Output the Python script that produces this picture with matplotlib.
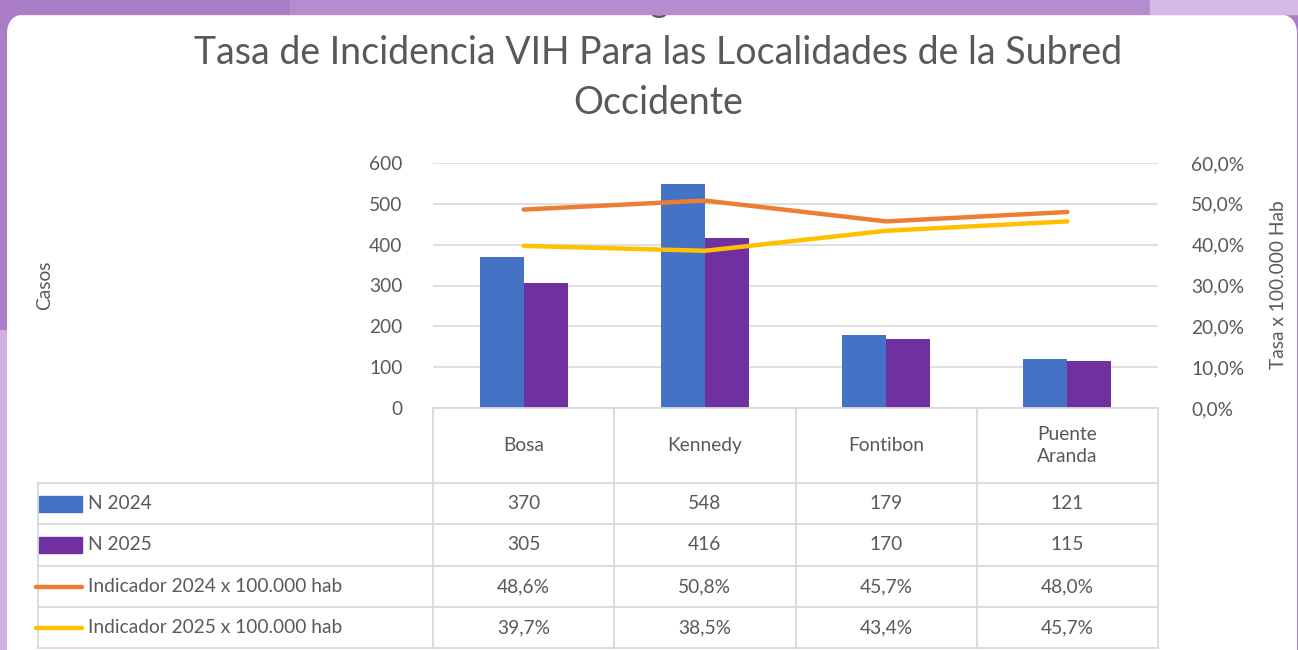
import matplotlib.pyplot as plt
import numpy as np
from matplotlib.patches import FancyBboxPatch, Rectangle
from matplotlib.lines import Line2D

plt.rcParams['font.family'] = ['Lato', 'DejaVu Sans']

categorias = ['Bosa', 'Kennedy', 'Fontibon', 'Puente\nAranda']
n_2024 = [370, 548, 179, 121]
n_2025 = [305, 416, 170, 115]
ind_2024 = [48.6, 50.8, 45.7, 48.0]
ind_2025 = [39.7, 38.5, 43.4, 45.7]
series = ['N 2024', 'N 2025', 'Indicador 2024 x 100.000 hab', 'Indicador 2025 x 100.000 hab']

azul, morado, naranja, amarillo = '#4472C4', '#7030A0', '#ED7D31', '#FFC000'
gris = '#595959'
borde = '#d9d9d9'
fs = 13.8

W, H = 1298, 650
fig = plt.figure(figsize=(W / 100, H / 100), dpi=100)


def px(x0, y0, x1, y1):
    # pixel box (top-left origin) -> figure fraction rect
    return [x0 / W, 1 - y1 / H, (x1 - x0) / W, (y1 - y0) / H]


# background: purple page with a white rounded card
bg = fig.add_axes([0, 0, 1, 1])
bg.set_xlim(0, W)
bg.set_ylim(H, 0)
bg.axis('off')
bg.add_patch(Rectangle((0, 0), W, H, color='#ab7cc8', zorder=1))
bg.add_patch(Rectangle((0, 330), 6, 320, color='#d2aee4', zorder=1))
card = FancyBboxPatch((27, 34), 1250, 700, boxstyle='round,pad=20', fc='white', ec='none',
                      zorder=2)
bg.add_patch(card)
# tail of a heading above the card, mostly hidden by the top band
bg.text(659, 12, 'g', fontsize=26, color=gris, ha='center', va='baseline', zorder=3)
bg.add_patch(Rectangle((0, 0), 290, 14, color='#ab7cc8', zorder=4))
bg.add_patch(Rectangle((290, 0), 860, 14, color='#b58cd0', zorder=4))
bg.add_patch(Rectangle((1150, 0), 148, 14, color='#d6b9e6', zorder=4))

fig.text(658 / W, 1 - 53 / H, 'Tasa de Incidencia VIH Para las Localidades de la Subred',
         ha='center', va='center', fontsize=27, color=gris)
fig.text(658 / W, 1 - 103 / H, 'Occidente', ha='center', va='center', fontsize=27, color=gris)

# main chart
ax = fig.add_axes(px(433, 163, 1158, 408))
x = np.arange(len(categorias))
w = 0.243
ax.bar(x - w / 2, n_2024, w, color=azul, zorder=2)
ax.bar(x + w / 2, n_2025, w, color=morado, zorder=2)
ax.set_xlim(-0.5, 3.5)
ax.set_ylim(0, 600)
ax.set_yticks(range(0, 601, 100))
ax.grid(axis='y', color=borde, lw=1.2, zorder=0)
ax.set_xticks([])
for s in ax.spines.values():
    s.set_visible(False)
ax.tick_params(axis='y', length=0, pad=22, labelsize=fs, labelcolor=gris)
fig.text(45 / W, 1 - 285 / H, 'Casos', rotation=90, ha='center', va='center',
         fontsize=fs, color=gris)

ax2 = ax.twinx()
ax2.plot(x, ind_2024, color=naranja, lw=3.2, solid_capstyle='round', zorder=3)
ax2.plot(x, ind_2025, color=amarillo, lw=3.2, solid_capstyle='round', zorder=3)
ax2.set_ylim(0, 60)
ax2.set_yticks(range(0, 61, 10))
ax2.set_yticklabels([f'{v:.1f}%'.replace('.', ',') for v in range(0, 61, 10)])
for s in ax2.spines.values():
    s.set_visible(False)
ax2.tick_params(axis='y', length=0, pad=24, labelsize=fs, labelcolor=gris)
fig.text(1278 / W, 1 - 285 / H, 'Tasa x 100.000 Hab', rotation=90, ha='center',
         va='center', fontsize=fs, color=gris)

# data table below the chart, sharing the category scale
colw = 181.25
left = -0.5 - (433 - 38) / colw
tb = fig.add_axes(px(38, 408, 1158, 648))
tb.set_xlim(left, 3.5)
tb.set_ylim(240, 0)
tb.axis('off')
filas = [0, 75, 116, 158, 199, 240]
lk = dict(color=borde, lw=1.3, clip_on=False)
tb.add_line(Line2D([-0.5, 3.5], [filas[0]] * 2, **lk))
for yv in filas[1:]:
    tb.add_line(Line2D([left, 3.5], [yv] * 2, **lk))
tb.add_line(Line2D([left, left], [filas[1], filas[-1]], **lk))
for xv in np.arange(-0.5, 3.6, 1):
    tb.add_line(Line2D([xv, xv], [filas[0], filas[-1]], **lk))

for i, c in enumerate(categorias):
    tb.text(i, (filas[0] + filas[1]) / 2, c, ha='center', va='center',
            fontsize=fs, color=gris, linespacing=1.4)

valores = [[str(v) for v in n_2024], [str(v) for v in n_2025],
           [f'{v:.1f}%'.replace('.', ',') for v in ind_2024],
           [f'{v:.1f}%'.replace('.', ',') for v in ind_2025]]
colores = [azul, morado, naranja, amarillo]
kx0 = left
kx1 = left + 44 / colw
for r, (nombre, fila, col) in enumerate(zip(series, valores, colores)):
    yc = (filas[r + 1] + filas[r + 2]) / 2
    if r < 2:
        tb.add_patch(Rectangle((kx0, yc - 8), kx1 - kx0, 16, color=col))
    else:
        tb.add_line(Line2D([kx0 - 2 / colw, kx1], [yc, yc], color=col, lw=3.2,
                           solid_capstyle='round', clip_on=False))
    tb.text(left + 50 / colw, yc, nombre, ha='left', va='center', fontsize=fs, color=gris)
    for i, v in enumerate(fila):
        tb.text(i, yc, v, ha='center', va='center', fontsize=fs, color=gris)

fig.savefig('out.png', dpi=100)
